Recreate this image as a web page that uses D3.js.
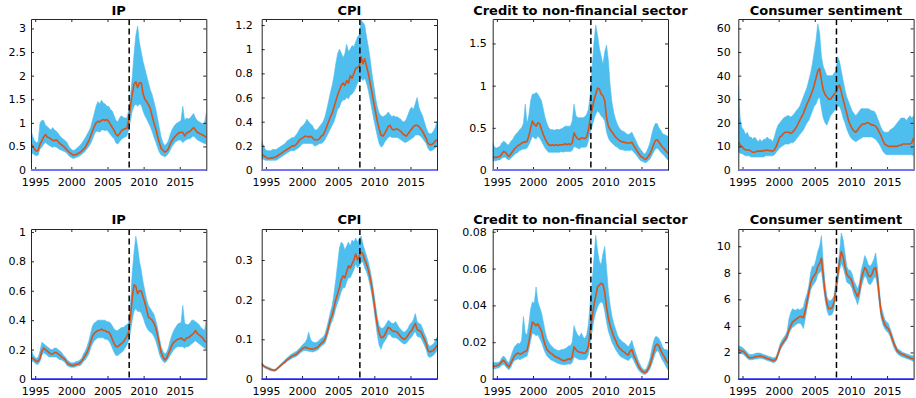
<!DOCTYPE html>
<html>
<head>
<meta charset="utf-8">
<script src="https://cdn.jsdelivr.net/npm/d3@7"></script>
<style>
  html, body { margin: 0; padding: 0; background: #fff; }
  svg { display: block; }
  .tick-label { font-family: "DejaVu Sans", sans-serif; font-size: 11px; fill: #000; }
  .panel-title { font-family: "DejaVu Sans", sans-serif; font-size: 13px; font-weight: bold; fill: #000; }
</style>
</head>
<body>
<svg id="chart" width="916" height="398"></svg>
<script>
// Quarterly observations, first point mid-1994
const startYear = 1994.42;
const stepYears = 0.25;
const nObs = 98;

const titles = ["IP", "CPI", "Credit to non-financial sector", "Consumer sentiment",
                "IP", "CPI", "Credit to non-financial sector", "Consumer sentiment"];
const xTicks = [1995, 2000, 2005, 2010, 2015];
const breakYear = 2008.0;
const yMaxes = [3.2, 1.25, 1.79, 64, 1.02, 0.378, 0.0815, 11.3];
const yTickValues = [
  [0, 0.5, 1, 1.5, 2, 2.5, 3],
  [0, 0.2, 0.4, 0.6, 0.8, 1, 1.2],
  [0, 0.5, 1, 1.5],
  [0, 10, 20, 30, 40, 50, 60],
  [0, 0.2, 0.4, 0.6, 0.8, 1],
  [0, 0.1, 0.2, 0.3],
  [0, 0.02, 0.04, 0.06, 0.08],
  [0, 2, 4, 6, 8, 10]
];

// ---- Row 1 ----
const ipAMed = [0.56,0.50,0.44, 0.40,0.42,0.55,0.62, 0.70,0.75,0.70,0.68, 0.66,0.63,0.62,0.64, 0.60,0.56,0.53,0.50,
  0.46,0.42,0.38,0.35, 0.32,0.32,0.33,0.35, 0.37,0.40,0.44,0.48, 0.55,0.62,0.72,0.82, 0.92,1.00,1.03,1.02,
  1.05,1.07,1.05,1.07, 1.03,0.96,0.90,0.84, 0.76,0.72,0.77,0.83, 0.86,0.88,0.88,1.05, 1.35,1.60,1.82,1.87,
  1.75,1.85,1.85,1.62, 1.50,1.45,1.38,1.30, 1.15,1.00,0.88,0.72, 0.58,0.46,0.42,0.38, 0.40,0.45,0.55,0.62,
  0.68,0.72,0.76,0.79, 0.80,0.80,0.72,0.78, 0.80,0.82,0.86,0.90, 0.85,0.80,0.78,0.76, 0.74,0.72,0.69];
const ipAHi = [0.85,0.70,0.62, 0.58,0.60,1.00,1.05, 1.05,0.95,0.92,0.88, 0.85,0.90,0.85,0.82, 0.78,0.72,0.68,0.65,
  0.62,0.58,0.50,0.45, 0.42,0.42,0.45,0.48, 0.52,0.56,0.62,0.68, 0.75,0.82,0.90,1.05, 1.20,1.35,1.45,1.40,
  1.48,1.42,1.40,1.35, 1.35,1.28,1.25,1.15, 1.05,1.02,1.10,1.15, 1.12,1.10,1.10,1.25, 1.55,1.95,2.45,2.85,
  3.05,2.70,2.50,2.30, 2.15,2.00,1.85,1.70, 1.60,1.45,1.30,1.10, 0.90,0.70,0.58,0.52, 0.55,0.62,0.75,0.85,
  0.92,0.97,1.00,1.02, 1.05,1.35,1.05,1.10, 1.08,1.10,1.15,1.20, 1.10,1.05,1.02,1.00, 0.98,1.00,1.20];
const ipALo = [0.35,0.35,0.32, 0.30,0.32,0.45,0.48, 0.55,0.58,0.55,0.52, 0.50,0.48,0.50,0.48, 0.46,0.43,0.42,0.40,
  0.38,0.35,0.30,0.27, 0.25,0.25,0.27,0.28, 0.30,0.33,0.36,0.40, 0.45,0.50,0.56,0.65, 0.75,0.82,0.82,0.80,
  0.85,0.85,0.83,0.85, 0.80,0.75,0.70,0.66, 0.57,0.55,0.60,0.65, 0.68,0.70,0.72,0.85, 1.05,1.25,1.35,1.40,
  1.35,1.40,1.38,1.25, 1.15,1.08,1.00,0.92, 0.82,0.70,0.60,0.48, 0.38,0.32,0.30,0.28, 0.30,0.35,0.42,0.50,
  0.55,0.60,0.62,0.64, 0.63,0.58,0.62,0.64, 0.66,0.66,0.70,0.72, 0.68,0.64,0.62,0.60, 0.58,0.56,0.55];

const cpiAMed = [0.13,0.12,0.11, 0.10,0.095,0.10,0.10, 0.105,0.11,0.12,0.13, 0.14,0.15,0.16,0.17, 0.18,0.19,0.20,0.20,
  0.21,0.23,0.25,0.26, 0.27,0.28,0.28,0.27, 0.28,0.27,0.25,0.25, 0.25,0.26,0.28,0.29, 0.32,0.36,0.40,0.44,
  0.47,0.52,0.57,0.62, 0.66,0.70,0.72,0.70, 0.74,0.72,0.78,0.76, 0.80,0.84,0.85,0.86, 0.94,0.88,0.92,0.86,
  0.80,0.72,0.64,0.56, 0.48,0.40,0.34,0.29, 0.28,0.30,0.33,0.36, 0.37,0.34,0.33,0.34, 0.34,0.33,0.32,0.30,
  0.29,0.28,0.30,0.32, 0.34,0.36,0.37,0.37, 0.36,0.34,0.32,0.29, 0.26,0.22,0.21,0.21, 0.22,0.24,0.25];
const cpiAHi = [0.24,0.20,0.17, 0.16,0.16,0.16,0.17, 0.17,0.17,0.18,0.19, 0.20,0.21,0.22,0.24, 0.25,0.26,0.27,0.27,
  0.29,0.31,0.34,0.36, 0.37,0.39,0.42,0.40, 0.38,0.37,0.34,0.33, 0.34,0.36,0.38,0.40, 0.44,0.50,0.57,0.64,
  0.70,0.78,0.88,0.96, 1.00,0.97,0.93,0.96, 1.04,0.98,1.00,1.03, 1.02,1.06,1.10,1.12, 1.24,1.22,1.20,1.10,
  1.02,0.92,0.80,0.70, 0.60,0.52,0.47,0.45, 0.44,0.45,0.46,0.48, 0.46,0.44,0.45,0.44, 0.44,0.43,0.42,0.40,
  0.40,0.42,0.46,0.50, 0.52,0.50,0.55,0.60, 0.52,0.48,0.45,0.40, 0.35,0.31,0.30,0.30, 0.32,0.35,0.40];
const cpiALo = [0.09,0.09,0.08, 0.08,0.08,0.08,0.08, 0.08,0.08,0.09,0.10, 0.11,0.12,0.13,0.14, 0.15,0.16,0.16,0.16,
  0.17,0.18,0.19,0.21, 0.22,0.22,0.22,0.22, 0.22,0.22,0.20,0.20, 0.21,0.22,0.22,0.23, 0.25,0.28,0.31,0.34,
  0.37,0.40,0.45,0.50, 0.52,0.56,0.58,0.58, 0.60,0.59,0.62,0.63, 0.65,0.68,0.72,0.74, 0.76,0.74,0.76,0.72,
  0.66,0.58,0.50,0.42, 0.35,0.28,0.22,0.19, 0.20,0.23,0.25,0.27, 0.28,0.27,0.27,0.27, 0.27,0.26,0.25,0.24,
  0.23,0.23,0.24,0.25, 0.26,0.27,0.29,0.29, 0.29,0.28,0.26,0.24, 0.22,0.18,0.16,0.16, 0.17,0.18,0.20];

const creditAMed = [0.15,0.15,0.15, 0.155,0.16,0.19,0.22, 0.21,0.18,0.16,0.19, 0.22,0.25,0.27,0.29, 0.30,0.32,0.33,0.33,
  0.34,0.40,0.50,0.58, 0.54,0.52,0.56,0.55, 0.48,0.42,0.37,0.33, 0.30,0.29,0.30,0.29, 0.30,0.29,0.30,0.30,
  0.30,0.31,0.30,0.31, 0.30,0.32,0.44,0.40, 0.37,0.36,0.38,0.38, 0.37,0.39,0.48,0.62, 0.72,0.82,0.90,0.97,
  0.96,0.90,0.88,0.82, 0.62,0.52,0.48,0.45, 0.42,0.39,0.37,0.35, 0.34,0.33,0.33,0.32, 0.32,0.32,0.33,0.29,
  0.26,0.22,0.19,0.16, 0.15,0.13,0.13,0.16, 0.19,0.24,0.30,0.35, 0.36,0.33,0.30,0.27, 0.25,0.22,0.20];
const creditAHi = [0.32,0.27,0.26, 0.27,0.28,0.32,0.34, 0.33,0.30,0.30,0.34, 0.36,0.40,0.43,0.45, 0.48,0.50,0.55,0.78,
  0.55,0.65,0.82,0.90, 0.90,0.92,0.90,0.86, 0.82,0.72,0.62,0.55, 0.50,0.48,0.48,0.47, 0.48,0.48,0.48,0.49,
  0.50,0.52,0.52,0.52, 0.52,0.58,0.78,0.65, 0.62,0.62,0.62,0.62, 0.63,0.66,0.72,0.90, 1.20,1.50,1.72,1.60,
  1.45,1.35,1.25,1.40, 1.48,1.30,1.00,0.80, 0.68,0.60,0.54,0.50, 0.47,0.46,0.45,0.43, 0.42,0.43,0.45,0.40,
  0.36,0.31,0.27,0.24, 0.21,0.19,0.21,0.26, 0.32,0.42,0.50,0.55, 0.55,0.50,0.47,0.43, 0.42,0.41,0.40];
const creditALo = [0.11,0.11,0.11, 0.12,0.12,0.14,0.15, 0.15,0.13,0.12,0.14, 0.16,0.18,0.20,0.21, 0.23,0.24,0.25,0.25,
  0.26,0.30,0.35,0.40, 0.38,0.37,0.40,0.38, 0.34,0.30,0.26,0.23, 0.21,0.21,0.21,0.21, 0.21,0.21,0.21,0.22,
  0.21,0.22,0.22,0.22, 0.22,0.23,0.28,0.27, 0.26,0.25,0.27,0.27, 0.27,0.28,0.35,0.45, 0.52,0.60,0.66,0.70,
  0.68,0.64,0.62,0.58, 0.45,0.38,0.34,0.32, 0.30,0.28,0.27,0.25, 0.24,0.24,0.23,0.23, 0.23,0.23,0.24,0.21,
  0.19,0.16,0.13,0.11, 0.10,0.09,0.09,0.11, 0.13,0.17,0.21,0.25, 0.26,0.24,0.21,0.19, 0.17,0.14,0.12];

const sentAMed = [12,10.5,10, 9,8.5,8.5,8.5, 8,7.5,7.5,7.8, 8,8,8,8.2, 8.3,8.5,8.2,8.2,
  8,8.5,10,12, 14,14.5,15.5,16, 16,16,15.5,16, 17,18,19.5,21, 22.5,24,26,28,
  29.5,31.5,33.5,36, 39,42,43,38, 34,32,31,30, 30,31,32,33, 35,36,33,30,
  27,24,21,19, 17.5,16.5,16,17, 18,19,19.5,19.5, 20,20,19.5,19, 19,18.5,17.5,16,
  14.5,12.5,11,10.5, 10,10,10,10, 10,10,10.5,10.5, 11,11,11,11, 11,11.5,13.5];
const sentAHi = [36,22,18, 17,15,16,14, 14,13,14,13, 12,13,12,13, 13,14,13,13,
  12,14,17,19, 20,21,22,22.5, 23,23,22.5,23, 24,25,26,27, 29,31,33,35,
  38,41,45,50, 55,62,58,48, 44,42,40,40, 40,40,41,42, 48,46,42,38,
  34,31,29,27, 25,24,23,24, 25,26,26,26, 26,26,25.5,25, 25,24,22,20,
  18,16.5,16,16, 16,17,17.5,18, 19,20,21,22, 22,22,21,22, 23,22,23];
const sentALo = [8,7,7, 6.5,6,6,6, 5.5,5.5,5.5,5.5, 5.5,5.5,5.5,5.5, 6,6,6,6,
  6,6.5,7.5,8.5, 9.5,10,10.5,11, 11,11,11.5,11.5, 12,13,14,15, 16,17,18.5,20,
  21,23,25,27, 28,30,31,26, 22,20,19,21, 23,24,25,26, 27,27,25,22,
  20,17.5,15.5,14, 13,12.5,12,12.5, 13,13.5,14,14, 14,14,14,14, 13.5,13,12,11,
  9.5,8,7,6.5, 6.5,6.5,6.5,6.5, 6.5,6.5,6.5,6.5, 6.5,6.5,6.5,6.5, 6.5,6.5,6];

// ---- Row 2 ----
const ipBMed = [0.15,0.14,0.13, 0.12,0.12,0.14,0.19, 0.21,0.20,0.19,0.18, 0.17,0.17,0.18,0.18, 0.17,0.16,0.15,0.14,
  0.13,0.11,0.10,0.095, 0.09,0.095,0.10,0.10, 0.11,0.12,0.14,0.16, 0.18,0.21,0.25,0.29, 0.31,0.32,0.33,0.33,
  0.34,0.33,0.33,0.32, 0.32,0.30,0.27,0.24, 0.22,0.22,0.23,0.24, 0.25,0.27,0.29,0.32, 0.42,0.55,0.64,0.63,
  0.58,0.60,0.60,0.56, 0.52,0.47,0.42,0.41, 0.40,0.38,0.35,0.30, 0.24,0.18,0.15,0.13, 0.14,0.17,0.20,0.23,
  0.25,0.26,0.27,0.27, 0.28,0.27,0.26,0.28, 0.28,0.29,0.30,0.31, 0.33,0.31,0.30,0.29, 0.28,0.26,0.25];
const ipBHi = [0.21,0.17,0.15, 0.14,0.15,0.19,0.25, 0.24,0.23,0.22,0.21, 0.20,0.20,0.21,0.21, 0.20,0.19,0.18,0.16,
  0.15,0.13,0.12,0.11, 0.11,0.11,0.12,0.12, 0.13,0.14,0.17,0.19, 0.22,0.26,0.31,0.36, 0.38,0.39,0.40,0.40,
  0.40,0.40,0.40,0.39, 0.39,0.38,0.36,0.34, 0.33,0.33,0.34,0.35, 0.35,0.36,0.37,0.38, 0.50,0.72,0.86,0.97,
  0.90,0.80,0.74,0.66, 0.60,0.54,0.50,0.48, 0.46,0.44,0.40,0.35, 0.28,0.22,0.19,0.17, 0.18,0.21,0.26,0.30,
  0.33,0.35,0.37,0.38, 0.38,0.50,0.38,0.37, 0.37,0.38,0.40,0.40, 0.39,0.38,0.37,0.35, 0.34,0.33,0.40];
const ipBLo = [0.12,0.12,0.11, 0.10,0.10,0.12,0.16, 0.18,0.17,0.16,0.15, 0.15,0.15,0.15,0.15, 0.14,0.13,0.13,0.12,
  0.11,0.09,0.085,0.08, 0.08,0.08,0.085,0.09, 0.09,0.10,0.12,0.13, 0.15,0.17,0.21,0.24, 0.26,0.27,0.28,0.28,
  0.28,0.28,0.27,0.27, 0.26,0.24,0.21,0.18, 0.16,0.16,0.17,0.18, 0.19,0.21,0.23,0.26, 0.32,0.40,0.46,0.48,
  0.46,0.46,0.45,0.42, 0.38,0.35,0.33,0.32, 0.31,0.29,0.26,0.22, 0.17,0.14,0.12,0.11, 0.12,0.14,0.16,0.18,
  0.20,0.21,0.22,0.22, 0.22,0.22,0.21,0.22, 0.22,0.23,0.24,0.25, 0.26,0.25,0.24,0.23, 0.22,0.21,0.20];

const cpiBMed = [0.038,0.033,0.030, 0.028,0.026,0.024,0.023, 0.022,0.024,0.028,0.032, 0.036,0.040,0.044,0.048,
  0.052,0.055,0.058,0.060, 0.062,0.066,0.070,0.075, 0.078,0.080,0.079,0.077, 0.076,0.075,0.076,0.078,
  0.080,0.085,0.090,0.094, 0.100,0.115,0.130,0.150, 0.160,0.180,0.200,0.215, 0.230,0.250,0.260,0.255,
  0.270,0.285,0.280,0.290, 0.300,0.315,0.300,0.310, 0.320,0.315,0.300,0.290, 0.275,0.255,0.230,0.200,
  0.165,0.135,0.115,0.105, 0.105,0.110,0.120,0.130, 0.128,0.122,0.120,0.120, 0.118,0.112,0.106,0.102,
  0.100,0.104,0.110,0.118, 0.122,0.132,0.140,0.125, 0.122,0.120,0.110,0.100, 0.090,0.072,0.068,0.070,
  0.072,0.078,0.085];
const cpiBHi = [0.042,0.036,0.033, 0.031,0.029,0.027,0.025, 0.024,0.026,0.031,0.035, 0.040,0.044,0.049,0.053,
  0.057,0.061,0.064,0.067, 0.069,0.073,0.078,0.083, 0.088,0.092,0.100,0.118, 0.100,0.094,0.092,0.092,
  0.094,0.098,0.103,0.106, 0.113,0.130,0.148,0.168, 0.185,0.215,0.250,0.290, 0.330,0.345,0.340,0.325,
  0.335,0.345,0.335,0.350, 0.345,0.355,0.345,0.355, 0.360,0.340,0.325,0.310, 0.295,0.275,0.250,0.220,
  0.185,0.155,0.135,0.128, 0.128,0.132,0.140,0.148, 0.145,0.140,0.140,0.145, 0.138,0.130,0.125,0.120,
  0.118,0.122,0.128,0.138, 0.142,0.150,0.165,0.145, 0.140,0.138,0.128,0.115, 0.105,0.088,0.082,0.085,
  0.088,0.095,0.105];
const cpiBLo = [0.034,0.030,0.027, 0.025,0.023,0.021,0.020, 0.019,0.021,0.025,0.029, 0.033,0.037,0.040,0.044,
  0.047,0.050,0.053,0.055, 0.057,0.060,0.064,0.068, 0.071,0.072,0.071,0.070, 0.069,0.068,0.069,0.071,
  0.073,0.078,0.083,0.086, 0.090,0.103,0.118,0.136, 0.146,0.160,0.178,0.192, 0.205,0.220,0.230,0.230,
  0.245,0.255,0.255,0.265, 0.275,0.290,0.280,0.285, 0.295,0.295,0.280,0.270, 0.255,0.235,0.210,0.180,
  0.145,0.110,0.085,0.075, 0.088,0.095,0.102,0.112, 0.112,0.106,0.104,0.104, 0.102,0.098,0.094,0.090,
  0.088,0.090,0.096,0.102, 0.106,0.114,0.120,0.108, 0.106,0.104,0.095,0.085, 0.075,0.058,0.054,0.057,
  0.060,0.065,0.072];

const creditBMed = [0.0068,0.0070,0.0072, 0.0075,0.0082,0.0095,0.0102, 0.0090,0.0075,0.0066,0.0085,
  0.0105,0.0125,0.0135,0.0142, 0.0135,0.0138,0.0145,0.0150, 0.0155,0.0200,0.0260,0.0310,
  0.0300,0.0290,0.0300,0.0280, 0.0260,0.0220,0.0185,0.0160, 0.0150,0.0140,0.0135,0.0125,
  0.0120,0.0115,0.0110,0.0105, 0.0100,0.0100,0.0105,0.0110, 0.0105,0.0120,0.0175,0.0160,
  0.0150,0.0145,0.0145,0.0140, 0.0140,0.0150,0.0180,0.0270, 0.0330,0.0400,0.0450,0.0500,
  0.0510,0.0520,0.0515,0.0470, 0.0390,0.0330,0.0290,0.0260, 0.0230,0.0210,0.0185,0.0170,
  0.0160,0.0150,0.0145,0.0135, 0.0130,0.0150,0.0160,0.0130, 0.0110,0.0085,0.0065,0.0050,
  0.0040,0.0035,0.0038,0.0055, 0.0075,0.0110,0.0145,0.0180, 0.0190,0.0180,0.0155,0.0135,
  0.0120,0.0100,0.0085];
const creditBHi = [0.0090,0.0090,0.0090, 0.0090,0.0095,0.0115,0.0125, 0.0115,0.0095,0.0090,0.0120,
  0.0150,0.0175,0.0185,0.0195, 0.0190,0.0210,0.0340,0.0250, 0.0240,0.0300,0.0380,0.0420,
  0.0410,0.0500,0.0420,0.0390, 0.0360,0.0310,0.0260,0.0220, 0.0200,0.0185,0.0175,0.0165,
  0.0160,0.0155,0.0155,0.0160, 0.0160,0.0165,0.0170,0.0180, 0.0180,0.0200,0.0290,0.0260,
  0.0240,0.0230,0.0250,0.0230, 0.0220,0.0240,0.0300,0.0420, 0.0520,0.0650,0.0780,0.0700,
  0.0640,0.0620,0.0680,0.0720, 0.0600,0.0480,0.0400,0.0340, 0.0300,0.0270,0.0240,0.0220,
  0.0210,0.0200,0.0195,0.0185, 0.0175,0.0190,0.0210,0.0175, 0.0145,0.0115,0.0090,0.0070,
  0.0055,0.0050,0.0055,0.0080, 0.0110,0.0160,0.0205,0.0230, 0.0230,0.0220,0.0200,0.0175,
  0.0160,0.0160,0.0155];
const creditBLo = [0.0058,0.0055,0.0058, 0.0060,0.0065,0.0075,0.0080, 0.0070,0.0058,0.0050,0.0062,
  0.0085,0.0100,0.0105,0.0110, 0.0105,0.0110,0.0115,0.0120, 0.0125,0.0160,0.0210,0.0250,
  0.0245,0.0235,0.0240,0.0220, 0.0200,0.0170,0.0145,0.0125, 0.0115,0.0105,0.0100,0.0095,
  0.0090,0.0085,0.0082,0.0080, 0.0078,0.0078,0.0080,0.0082, 0.0080,0.0090,0.0120,0.0115,
  0.0110,0.0105,0.0105,0.0105, 0.0105,0.0110,0.0135,0.0200, 0.0260,0.0320,0.0360,0.0390,
  0.0410,0.0420,0.0410,0.0370, 0.0310,0.0260,0.0230,0.0200, 0.0180,0.0160,0.0145,0.0130,
  0.0120,0.0115,0.0110,0.0105, 0.0100,0.0110,0.0120,0.0100, 0.0080,0.0060,0.0045,0.0035,
  0.0028,0.0025,0.0028,0.0040, 0.0055,0.0080,0.0110,0.0140, 0.0155,0.0145,0.0120,0.0100,
  0.0085,0.0065,0.0050];

const sentBMed = [2.2,2.15,2.1, 2.05,1.9,1.75,1.6, 1.6,1.6,1.65,1.7, 1.7,1.75,1.7,1.65, 1.6,1.55,1.5,1.45,
  1.4,1.4,1.5,1.9, 2.3,2.6,2.8,3.0, 3.2,3.7,4.0,4.3, 4.4,4.5,4.6,4.7, 4.7,4.6,5.1,5.8,
  6.5,7.2,7.6,7.8, 8.0,8.5,8.7,9.1, 7.8,6.5,5.7,5.3, 5.3,5.4,5.8,6.8, 7.8,8.8,9.6,9.2,
  8.5,7.9,7.7,7.6, 7.3,6.8,6.5,6.2, 6.6,7.5,8.0,8.4, 8.2,7.8,7.7,7.9, 8.3,8.4,7.6,6.2,
  5.0,4.5,4.1,3.9, 3.8,3.5,3.1,2.7, 2.4,2.1,2.0,1.9, 1.85,1.8,1.7,1.65, 1.6,1.55,1.5];
const sentBHi = [2.5,2.45,2.4, 2.3,2.15,2.0,1.85, 1.85,1.85,1.9,1.95, 1.95,1.95,1.9,1.85, 1.8,1.75,1.7,1.65,
  1.6,1.6,1.7,2.1, 2.6,2.9,3.1,3.3, 3.6,4.5,5.0,5.3, 5.2,5.2,5.3,5.2, 5.3,5.4,6.0,6.4,
  7.0,8.0,8.5,8.5, 9.0,9.6,10.0,10.8, 8.8,7.2,6.2,5.9, 5.9,6.0,6.3,7.3, 8.4,9.5,11.0,10.5,
  9.5,8.5,8.2,8.2, 7.9,7.4,7.1,6.8, 7.2,8.2,8.7,9.3, 9.0,8.6,8.5,8.7, 9.0,9.5,8.4,6.8,
  5.5,5.0,4.5,4.3, 4.2,3.8,3.4,3.0, 2.6,2.3,2.2,2.1, 2.0,1.95,1.9,1.85, 1.8,1.75,1.75];
const sentBLo = [2.0,1.95,1.9, 1.85,1.7,1.55,1.45, 1.45,1.45,1.5,1.5, 1.55,1.55,1.55,1.5, 1.45,1.4,1.35,1.3,
  1.25,1.25,1.35,1.7, 2.1,2.4,2.6,2.8, 3.0,3.4,3.7,3.9, 4.0,4.1,4.2,4.2, 4.1,3.8,4.5,5.3,
  6.0,6.7,7.0,7.2, 7.4,7.9,8.0,8.2, 7.0,6.0,5.2,4.8, 4.8,4.9,5.3,6.3, 7.3,8.2,8.7,8.4,
  7.9,7.3,7.2,7.1, 6.8,6.3,6.0,5.6, 6.1,6.9,7.4,7.8, 7.6,7.2,7.1,7.3, 7.6,7.7,7.0,5.7,
  4.6,4.1,3.8,3.6, 3.5,3.2,2.8,2.4, 2.1,1.9,1.8,1.7, 1.65,1.6,1.55,1.5, 1.45,1.4,1.3];

const medians = [ipAMed, cpiAMed, creditAMed, sentAMed, ipBMed, cpiBMed, creditBMed, sentBMed];
const uppers  = [ipAHi, cpiAHi, creditAHi, sentAHi, ipBHi, cpiBHi, creditBHi, sentBHi];
const lowers  = [ipALo, cpiALo, creditALo, sentALo, ipBLo, cpiBLo, creditBLo, sentBLo];

// ---- Layout ----
const colLeft = [31, 261.7, 492.7, 738.3];
const plotW = 175.3;
const rowTop = [19, 229];
const rowBottom = [170, 379];
const labelGap = [5, 9, 6, 7.5];
const titleBaseline = [15, 224];
const bandColor = "#4DBEEE";
const lineColor = "#D95319";
const axisColor = "#262626";
const zeroLineColor = ["#7474ff", "#2a2aff"];
const zeroLineWidth = [2.2, 1.3];
const tickLen = 3;

const dates = d3.range(nObs).map(i => startYear + i * stepYears);
const fmt = v => String(+v.toFixed(6));

const svg = d3.select("#chart");

for (let p = 0; p < 8; p++) {
  const row = Math.floor(p / 4), col = p % 4;
  const x0 = colLeft[col], x1 = x0 + plotW;
  const y0 = rowTop[row], y1 = rowBottom[row];

  const x = d3.scaleLinear().domain([dates[0], dates[nObs - 1]]).range([x0, x1]);
  const y = d3.scaleLinear().domain([0, yMaxes[p]]).range([y1, y0]);

  const rows = dates.map((t, i) => ({ t, lo: lowers[p][i], mid: medians[p][i], hi: uppers[p][i] }));

  const g = svg.append("g");
  const clipId = "clip" + p;
  g.append("clipPath").attr("id", clipId)
    .append("rect").attr("x", x0).attr("y", y0).attr("width", plotW).attr("height", y1 - y0);

  const plot = g.append("g").attr("clip-path", `url(#${clipId})`);

  // credible band
  plot.append("path")
    .datum(rows)
    .attr("fill", bandColor)
    .attr("stroke", bandColor)
    .attr("stroke-width", 0.6)
    .attr("d", d3.area().x(d => x(d.t)).y0(d => y(d.lo)).y1(d => y(d.hi)));

  // median
  plot.append("path")
    .datum(rows)
    .attr("fill", "none")
    .attr("stroke", lineColor)
    .attr("stroke-width", 1.6)
    .attr("stroke-linejoin", "round")
    .attr("d", d3.line().x(d => x(d.t)).y(d => y(d.mid)));

  // break marker
  plot.append("line")
    .attr("x1", x(breakYear)).attr("x2", x(breakYear))
    .attr("y1", y0).attr("y2", y1)
    .attr("stroke", "#000").attr("stroke-width", 1.5)
    .attr("stroke-dasharray", "6,3.5");

  // axes: bottom with labels, top mirror, left with labels, right mirror
  const bottomAxis = d3.axisBottom(x).tickValues(xTicks).tickFormat(d3.format("d"))
    .tickSizeInner(-tickLen).tickSizeOuter(0).tickPadding(5);
  const topAxis = d3.axisTop(x).tickValues(xTicks).tickFormat("")
    .tickSizeInner(-tickLen).tickSizeOuter(0);
  const leftAxis = d3.axisLeft(y).tickValues(yTickValues[p]).tickFormat(fmt)
    .tickSizeInner(-tickLen).tickSizeOuter(0).tickPadding(labelGap[col]);
  const rightAxis = d3.axisRight(y).tickValues(yTickValues[p]).tickFormat("")
    .tickSizeInner(-tickLen).tickSizeOuter(0);

  const axes = [
    g.append("g").attr("transform", `translate(0,${y1})`).call(bottomAxis),
    g.append("g").attr("transform", `translate(0,${y0})`).call(topAxis),
    g.append("g").attr("transform", `translate(${x0},0)`).call(leftAxis),
    g.append("g").attr("transform", `translate(${x1},0)`).call(rightAxis)
  ];
  axes.forEach(a => {
    a.select(".domain").attr("stroke", axisColor).attr("stroke-width", 1);
    a.selectAll(".tick line").attr("stroke", axisColor).attr("stroke-width", 1);
    a.selectAll(".tick text").attr("class", "tick-label").attr("font-family", null).attr("font-size", null);
  });
  axes[0].selectAll(".tick text").attr("y", 8).attr("dy", "0.71em");
  axes[2].selectAll(".tick text").attr("x", -labelGap[col]);

  // zero line along the bottom edge
  g.append("line")
    .attr("x1", x0).attr("x2", x1)
    .attr("y1", y(0)).attr("y2", y(0))
    .attr("stroke", zeroLineColor[row]).attr("stroke-width", zeroLineWidth[row]);

  g.append("text")
    .attr("class", "panel-title")
    .attr("x", (x0 + x1) / 2)
    .attr("y", titleBaseline[row])
    .attr("text-anchor", "middle")
    .text(titles[p]);
}
</script>
</body>
</html>
